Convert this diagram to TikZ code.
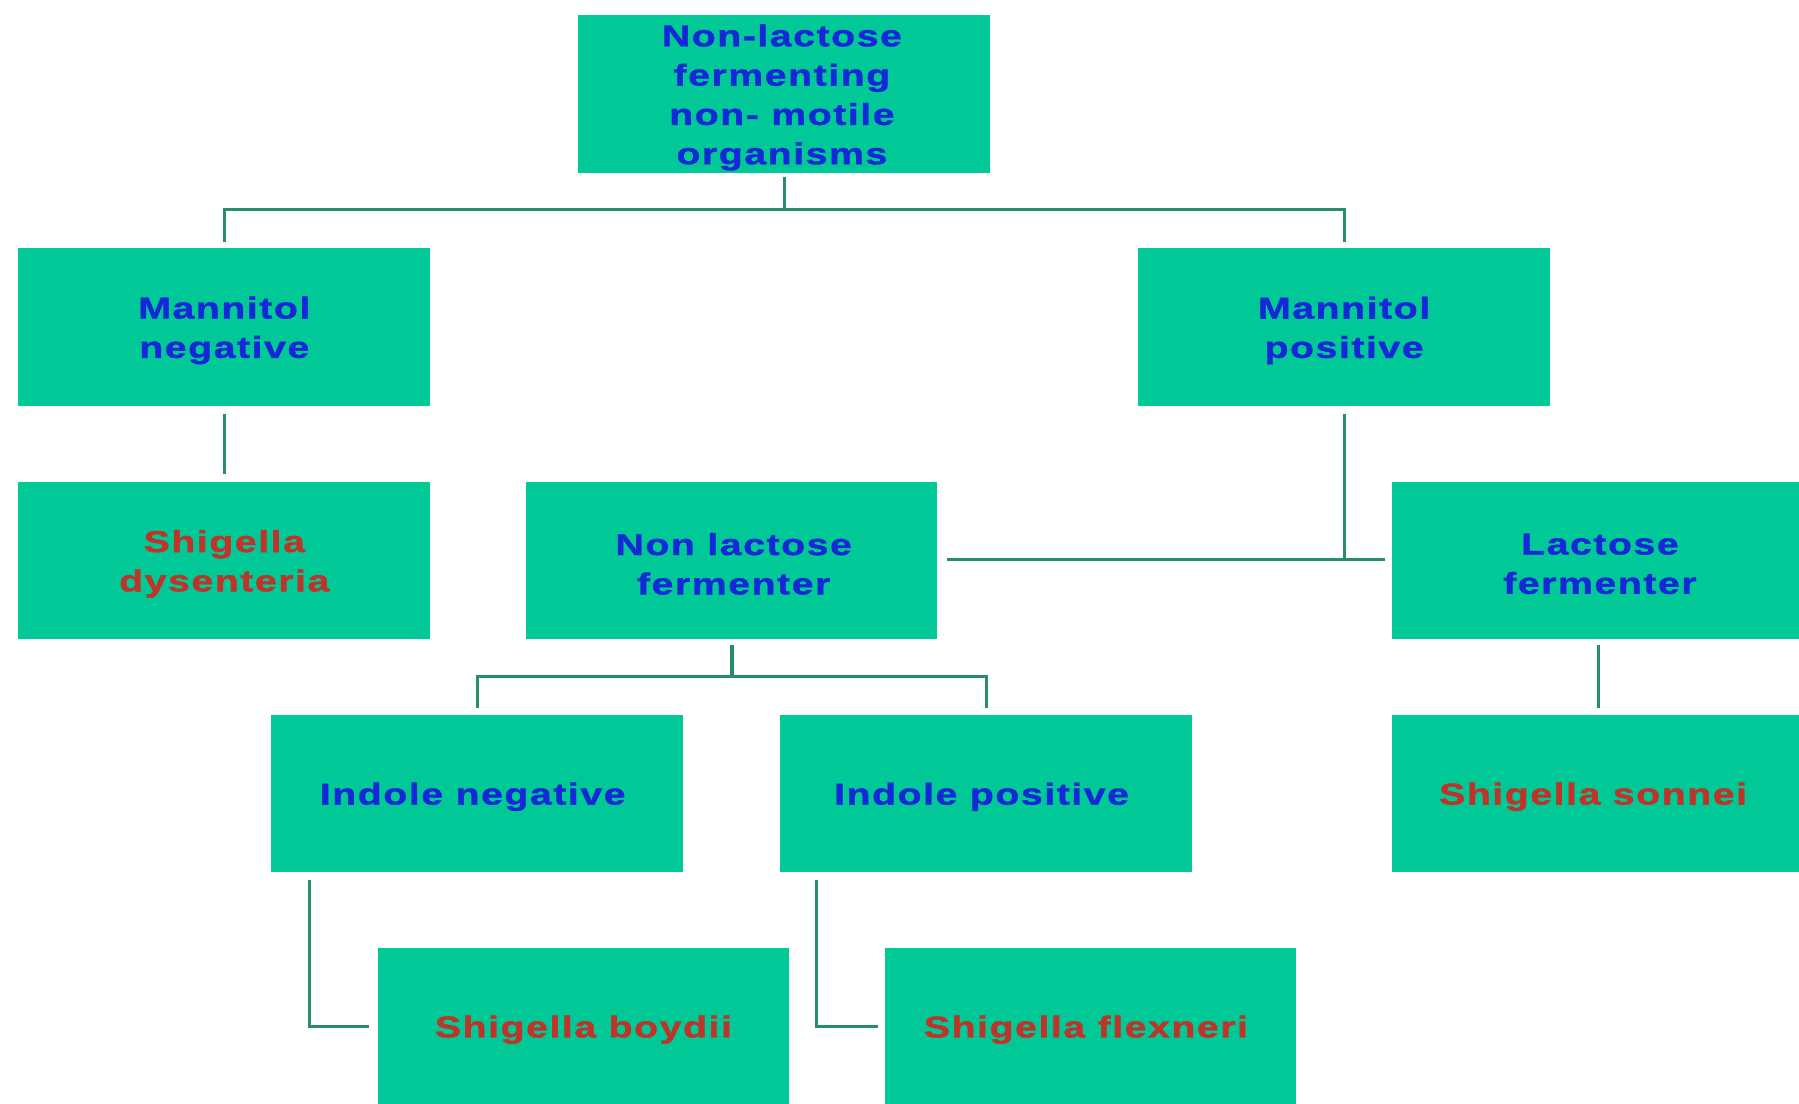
\documentclass[tikz,border=0pt]{standalone}
\usepackage{fontspec}
\newfontfamily\lbl{Liberation Sans}[FakeStretch=1.3,LetterSpace=5,FakeBold=1.2]
\usetikzlibrary{calc}
\definecolor{boxfill}{RGB}{0,201,151}
\definecolor{connclr}{RGB}{40,140,110}
\definecolor{bluetxt}{RGB}{20,40,215}
\definecolor{redtxt}{RGB}{190,52,40}
\tikzset{
  box/.style={rectangle, fill=boxfill, draw=none, inner sep=0pt, outer sep=0pt,
    minimum width=7.18cm, minimum height=2.74cm},
  edgebox/.style={minimum width=7.1cm},
  txt/.style={inner sep=0pt, align=center,
    font={\lbl\bfseries\fontsize{15}{19.5}\selectfont}},
  bluetext/.style={txt, text=bluetxt},
  redtext/.style={txt, text=redtxt},
  conn/.style={draw=connclr, line width=1.5pt}
}
\begin{document}
\begin{tikzpicture}[x=0.02cm, y=-0.02cm]
\useasboundingbox (0,0) rectangle (1568,962);
\fill[white] (0,0) rectangle (1568,962);
% boxes
\node[box] (top) at (683.5,82) {};
\node[box] (mneg) at (195.5,285) {};
\node[box] (mpos) at (1171.5,285) {};
\node[box] (sdys) at (195.5,488.5) {};
\node[box] (nlf) at (637.5,488.5) {};
\node[box, edgebox] (lf) at (1390.5,488.5) {};
\node[box] (ineg) at (416,691.5) {};
\node[box] (ipos) at (859.5,691.5) {};
\node[box, edgebox] (sson) at (1390.5,691.5) {};
\node[box] (sboy) at (508.5,894.5) {};
\node[box] (sflex) at (950.5,894.5) {};
% texts
\node[bluetext] (topt) at ($(top)+(-2,3)$) {Non-lactose\\fermenting\\non- motile\\organisms};
\node[bluetext] (mnegt) at ($(mneg)+(0,3)$) {Mannitol\\negative};
\node[bluetext] (mpost) at ($(mpos)+(0,3)$) {Mannitol\\positive};
\node[redtext] (sdyst) at ($(sdys)+(0,3)$) {Shigella\\dysenteria};
\node[bluetext] (nlft) at ($(nlf)+(2,3)$) {Non lactose\\fermenter};
\node[bluetext] (lft) at ($(lf)+(4,3)$) {Lactose\\fermenter};
\node[bluetext] (inegt) at ($(ineg)+(-4,3)$) {Indole negative};
\node[bluetext] (ipost) at ($(ipos)+(-4,3)$) {Indole positive};
\node[redtext] (ssont) at ($(sson)+(-2,3)$) {Shigella sonnei};
\node[redtext] (sboyt) at ($(sboy)+(0,3)$) {Shigella boydii};
\node[redtext] (sflext) at ($(sflex)+(-4,3)$) {Shigella flexneri};
% connectors
\draw[conn] ($(top.south)+(0.5,4)$) -- ($(top.south)+(0.5,32)$);
\draw[conn] ($(mneg.north)+(0,-6)$) -- ($(mneg.north)+(0,-34)$) -- ($(mpos.north)+(0,-34)$) -- ($(mpos.north)+(0,-6)$);
\draw[conn] ($(mneg.south)+(0,7)$) -- ($(sdys.north)+(0,-7)$);
\draw[conn] ($(mpos.south)+(0,7)$) -- ($(mpos.south |- nlf.east)+(0,-0.5)$);
\draw[conn] ($(nlf.east)+(8,-0.5)$) -- ($(lf.west)+(-6,-0.5)$);
\draw[conn] ($(nlf.south)+(0.5,5)$) -- ($(nlf.south)+(0.5,33)$);
\draw[conn] ($(ineg.north)+(0,-6)$) -- ($(ineg.north)+(0,-33)$) -- ($(ipos.north)+(0,-33)$) -- ($(ipos.north)+(0,-6)$);
\draw[conn] ($(lf.south)+(2.5,5)$) -- ($(sson.north)+(2.5,-6)$);
\draw[conn] ($(ineg.south west)+(33,7)$) |- ($(sboy.west)+(-7,0)$);
\draw[conn] ($(ipos.south west)+(32,7)$) |- ($(sflex.west)+(-6,0)$);
\end{tikzpicture}
\end{document}
